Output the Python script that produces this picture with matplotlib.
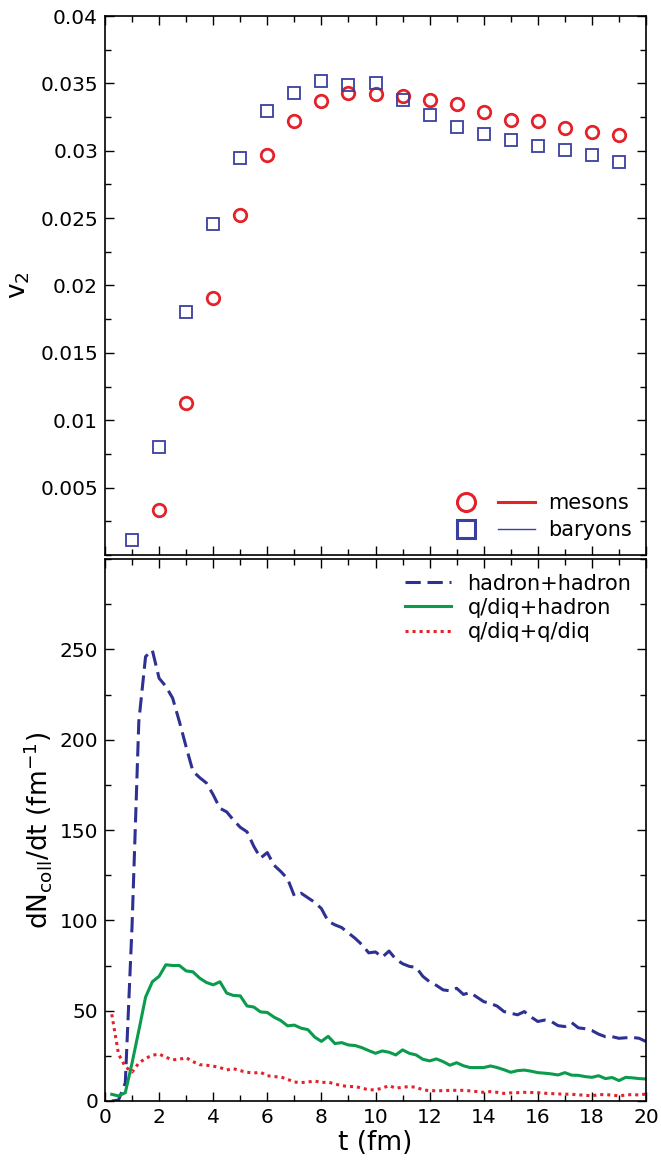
import matplotlib
matplotlib.use("Agg")
import matplotlib.pyplot as plt
from matplotlib.lines import Line2D
from matplotlib.legend_handler import HandlerTuple
from matplotlib.ticker import MultipleLocator, FixedLocator, FuncFormatter

plt.rcParams['font.family'] = ['DejaVu Sans']

# ---- top panel data: v2 vs t ----
t_mes = [2, 3, 4, 5, 6, 7, 8, 9, 10, 11, 12, 13, 14, 15, 16, 17, 18, 19]
v2_mesons = [0.00331, 0.0113, 0.0191, 0.0252, 0.0297, 0.0322, 0.0337, 0.0343, 0.0342,
             0.0341, 0.0338, 0.0335, 0.0329, 0.0323, 0.0322, 0.0317, 0.0314, 0.0312]
t_bar = [1, 2, 3, 4, 5, 6, 7, 8, 9, 10, 11, 12, 13, 14, 15, 16, 17, 18, 19]
v2_baryons = [0.00114, 0.0080, 0.0180, 0.02455, 0.02947, 0.03296, 0.03431, 0.03521, 0.03489,
              0.0350, 0.03376, 0.03267, 0.03177, 0.03124, 0.03077, 0.03037, 0.03005,
              0.02971, 0.02915]

# ---- bottom panel data: collision rates ----
t_coll = [0.25, 0.5, 0.75, 1.0, 1.25, 1.5, 1.75, 2.0, 2.25, 2.5, 2.75, 3.0, 3.25, 3.5, 3.75,
          4.0, 4.25, 4.5, 4.75, 5.0, 5.25, 5.5, 5.75, 6.0, 6.25, 6.5, 6.75, 7.0, 7.25, 7.5,
          7.75, 8.0, 8.25, 8.5, 8.75, 9.0, 9.25, 9.5, 9.75, 10.0, 10.25, 10.5, 10.75, 11.0,
          11.25, 11.5, 11.75, 12.0, 12.25, 12.5, 12.75, 13.0, 13.25, 13.5, 13.75, 14.0,
          14.25, 14.5, 14.75, 15.0, 15.25, 15.5, 15.75, 16.0, 16.25, 16.5, 16.75, 17.0,
          17.25, 17.5, 17.75, 18.0, 18.25, 18.5, 18.75, 19.0, 19.25, 19.5, 19.75, 20.0]
hadron_hadron = [0, 0.5, 10, 97, 210, 246, 249.5, 234, 229.5, 223, 210, 196, 182.5, 179, 176,
                 169.5, 162, 160, 155.5, 151.5, 149, 141, 134.5, 137.5, 130.5, 127, 123, 113.5,
                 115, 112.5, 110, 106.5, 99.5, 97.5, 96, 93, 90, 86.5, 82, 82.5, 79.6, 83,
                 78.5, 76, 74.5, 74, 69, 66, 64, 61.5, 61, 62.4, 59, 60, 57.5, 55, 54, 52.5,
                 49.5, 48.6, 47.7, 49.5, 46.5, 44, 44.8, 44, 41.7, 41.2, 43.4, 40.5, 40, 39,
                 37, 35.6, 35.6, 34.7, 35, 35.2, 34.7, 32.9]
qdiq_hadron = [3.7, 2.8, 4.6, 21, 39, 57.5, 66, 69, 75.4, 75, 75, 72, 71.5, 68, 65.6, 64.3,
               66, 59.7, 58.4, 58.2, 52.6, 52, 49.3, 49, 46.4, 44.5, 41.6, 42, 40.3, 39.5,
               35.4, 33, 35.8, 31.8, 32.3, 31, 30.7, 29.5, 27.9, 26.4, 27.7, 27, 25.5, 28.3,
               26.4, 25.5, 23.1, 22.2, 23.3, 21.8, 19.8, 21.2, 19.5, 18.5, 18.5, 18.5, 19.4,
               18.5, 17.3, 15.9, 16.8, 17.1, 16.5, 15.7, 15.4, 15, 14.4, 15.7, 14.3, 14.2,
               13.5, 13.1, 14, 12.4, 13, 11.3, 13.1, 12.8, 12.4, 12.2]
qdiq_qdiq = [48, 26, 19, 16, 21, 23.6, 25.3, 26, 24.2, 22.8, 23.1, 24, 21.8, 20.1, 19.8, 19.3,
             18.5, 17.2, 17.9, 16.8, 15.9, 15.5, 15.9, 14, 13.5, 13.3, 12, 10.5, 10.2, 10.5,
             11.1, 10.2, 10.5, 9.4, 8.5, 8, 8, 7.1, 6.2, 6.2, 7.1, 8.5, 7.1, 7.6, 8, 7.6,
             6.2, 5.7, 5.7, 5.7, 5.9, 5.9, 5.9, 5.6, 5.2, 4.8, 5.2, 4.8, 4.2, 4.5, 4.6, 4.8,
             4.7, 4.6, 4.3, 4.1, 3.9, 3.8, 3.7, 3.4, 3.2, 2.8, 3.6, 3.5, 3.3, 2.8, 3.3, 3.6,
             3.3, 3.9]

top_yticks = [0.005, 0.01, 0.015, 0.02, 0.025, 0.03, 0.035, 0.04]
bot_yticks = [0, 50, 100, 150, 200, 250]
xticks = [0, 2, 4, 6, 8, 10, 12, 14, 16, 18, 20]

RED = '#e3222a'
BLUE = '#2e3192'
BLUE_M = '#3b3f9f'
GREEN = '#0a9b4c'

fig = plt.figure(figsize=(6.61, 11.63), dpi=100)
L, R = 105 / 661, 646 / 661
y_top = 1 - 16 / 1163
y_mid1 = 1 - 555 / 1163
y_mid2 = 1 - 559 / 1163
y_bot = 1 - 1101 / 1163
ax1 = fig.add_axes([L, y_mid1, R - L, y_top - y_mid1])
ax2 = fig.add_axes([L, y_bot, R - L, y_mid2 - y_bot])

# top panel
ax1.plot(t_mes, v2_mesons, linestyle='none', marker='o', ms=9, mfc='none',
         mec=RED, mew=2.0)
ax1.plot(t_bar, v2_baryons, linestyle='none', marker='s', ms=9, mfc='none',
         mec=BLUE_M, mew=1.3)
ax1.set_ylim(0, 0.04)
ax1.set_xlim(0, 20)
ax1.yaxis.set_major_locator(FixedLocator(top_yticks))
ax1.yaxis.set_minor_locator(MultipleLocator(0.0025))
ax1.yaxis.set_major_formatter(FuncFormatter(lambda v, p: '%g' % round(v, 4)))
ax1.xaxis.set_major_locator(FixedLocator(xticks))
ax1.xaxis.set_minor_locator(MultipleLocator(1))
ax1.set_ylabel(r'v$_2$', fontsize=19, labelpad=6)
ax1.tick_params(axis='x', labelbottom=False)

h_mes = (Line2D([], [], ls='none', marker='o', ms=13, mfc='none', mec=RED, mew=2.2),
         Line2D([], [], color=RED, lw=2.2))
h_bar = (Line2D([], [], ls='none', marker='s', ms=13, mfc='none', mec=BLUE_M, mew=2.2),
         Line2D([], [], color=BLUE_M, lw=1.0))
ax1.legend([h_mes, h_bar], ['mesons', 'baryons'],
           handler_map={tuple: HandlerTuple(ndivide=None, pad=0.6)},
           loc='lower right', frameon=False, fontsize=15, handlelength=4.2,
           handletextpad=0.6, labelspacing=0.35, borderaxespad=0.3)

# bottom panel
ax2.plot(t_coll, hadron_hadron, color=BLUE, lw=2.2, ls=(0, (5, 2.2)), label='hadron+hadron')
ax2.plot(t_coll, qdiq_hadron, color=GREEN, lw=2.2, ls='-', label='q/diq+hadron')
ax2.plot(t_coll, qdiq_qdiq, color=RED, lw=2.2, ls=(0, (1, 1.3)), label='q/diq+q/diq')
ax2.set_ylim(0, 300)
ax2.set_xlim(0, 20)
ax2.yaxis.set_major_locator(FixedLocator(bot_yticks))
ax2.yaxis.set_minor_locator(MultipleLocator(25))
ax2.xaxis.set_major_locator(FixedLocator(xticks))
ax2.xaxis.set_minor_locator(MultipleLocator(1))
ax2.set_xlabel('t (fm)', fontsize=19, labelpad=2)
ax2.set_ylabel(r'dN$_{\mathrm{coll}}$/dt (fm$^{-1}$)', fontsize=19, labelpad=4)
ax2.legend(loc='upper right', frameon=False, fontsize=15, handlelength=2.2,
           handletextpad=0.8, labelspacing=0.2, borderaxespad=0.3)

for ax in (ax1, ax2):
    ax.tick_params(which='both', direction='in', top=True, right=True, labelsize=14.5,
                   width=1.0, pad=5)
    ax.tick_params(which='major', length=6.5)
    ax.tick_params(which='minor', length=4)
    for s in ax.spines.values():
        s.set_linewidth(1.2)

fig.savefig('out.png', dpi=100)
